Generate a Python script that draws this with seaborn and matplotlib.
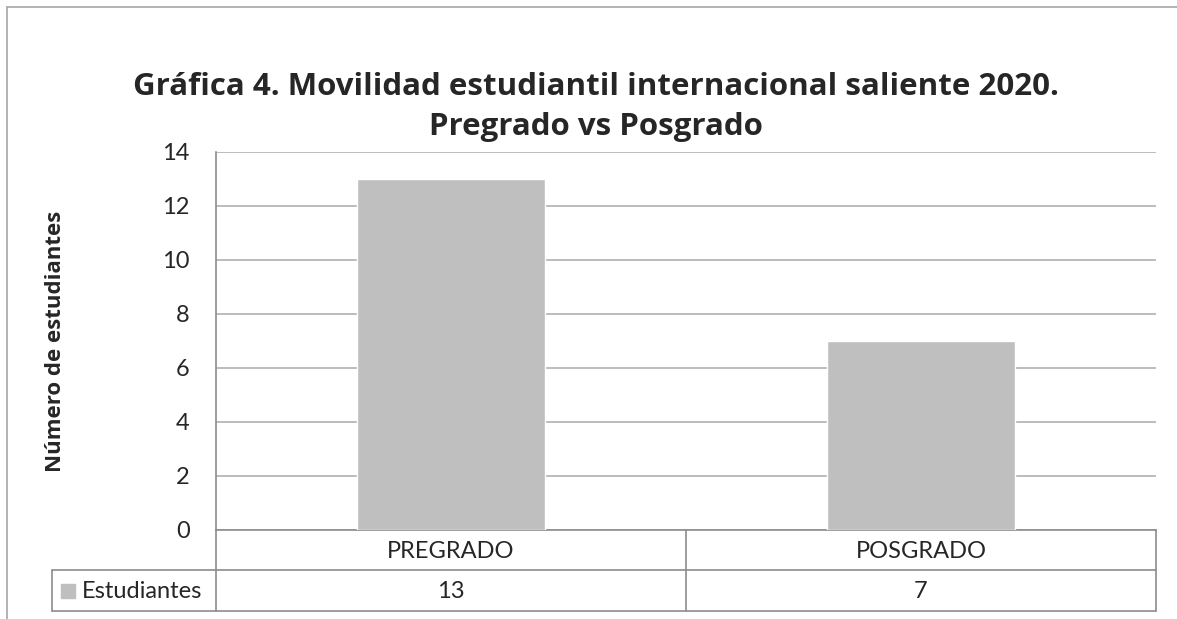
import matplotlib
matplotlib.use("Agg")
import matplotlib.pyplot as plt
import seaborn as sns
import pandas as pd
from matplotlib.lines import Line2D
from matplotlib.patches import Rectangle

categories = ["PREGRADO", "POSGRADO"]
values = [13, 7]
series_name = "Estudiantes"
yticks = [0, 2, 4, 6, 8, 10, 12, 14]
title = "Gráfica 4. Movilidad estudiantil internacional saliente 2020.\nPregrado vs Posgrado"
ylabel = "Número de estudiantes"

sns.set_style("white")
plt.rcParams["font.family"] = ["Lato", "DejaVu Sans"]
BOLD_FAM = ["Open Sans", "DejaVu Sans"]

W, H = 1177, 619
fig = plt.figure(figsize=(W / 100, H / 100), dpi=100)

def fx(px):
    return px / W

def fy(py):
    return 1 - py / H

FS = 17
L, R, T, B = 216, 1156, 152, 530
ax = fig.add_axes([fx(L), fy(B), fx(R) - fx(L), fy(T) - fy(B)])

df = pd.DataFrame({"cat": categories, "val": values})
BAR = "#BFBFBF"
sns.barplot(data=df, x="cat", y="val", color=BAR, width=0.4, ax=ax, zorder=3, saturation=1)

ax.set_ylim(0, 14)
ax.set_xlim(-0.5, 1.5)
ax.set_yticks(yticks)
ax.set_yticklabels([str(v) for v in yticks], fontsize=FS)
ax.set_xticks([])
ax.set_xlabel("")
ax.set_ylabel(ylabel, fontsize=16, fontweight="bold", family=BOLD_FAM)
ax.yaxis.set_label_coords((66 - L) / (R - L), 0.5)
ax.tick_params(axis="y", length=0, pad=19)
for s in ["top", "right"]:
    ax.spines[s].set_visible(False)
GRID = "#B0B0B0"
LINE = "#8C8C8C"
for s in ["left", "bottom"]:
    ax.spines[s].set_color(LINE)
    ax.spines[s].set_linewidth(1.2)
ax.yaxis.grid(True, color=GRID, linewidth=1.2, zorder=0)
ax.set_axisbelow(True)

# data table below the axes, in figure pixel coordinates
r1, r2 = 570, 611
legL = 52
mid = (L + R) / 2
lines = [
    ((legL, R), (r1, r1)),
    ((legL, R), (r2, r2)),
    ((L, L), (B, r2)),
    ((mid, mid), (B, r2)),
    ((R, R), (B, r2)),
    ((legL, legL), (r1, r2)),
]
for xs, ys in lines:
    fig.add_artist(Line2D([fx(xs[0]), fx(xs[1])], [fy(ys[0]), fy(ys[1])],
                          color=LINE, linewidth=1.2))

centers = [L + (i + 0.5) * (R - L) / len(categories) for i in range(len(categories))]
for c, cat, v in zip(centers, categories, values):
    fig.text(fx(c), fy((B + r1) / 2 + 1), cat, ha="center", va="center", fontsize=FS)
    fig.text(fx(c), fy((r1 + r2) / 2 + 1), str(v), ha="center", va="center", fontsize=FS)

fig.add_artist(Rectangle((fx(61), fy(598)), fx(14), 14 / H, color=BAR, transform=fig.transFigure))
fig.text(fx(82), fy((r1 + r2) / 2 + 1), series_name, ha="left", va="center", fontsize=FS)

# outer frame (left and top visible)
fig.add_artist(Line2D([fx(7), fx(7)], [fy(7), 0], color="#A6A6A6", linewidth=1.2))
fig.add_artist(Line2D([fx(7), 1], [fy(7), fy(7)], color="#A6A6A6", linewidth=1.2))

fig.text(fx(596), fy(107), title, ha="center", va="center", fontsize=22.5,
         fontweight="bold", family=BOLD_FAM, linespacing=1.45)

fig.savefig("out.png", dpi=100)
